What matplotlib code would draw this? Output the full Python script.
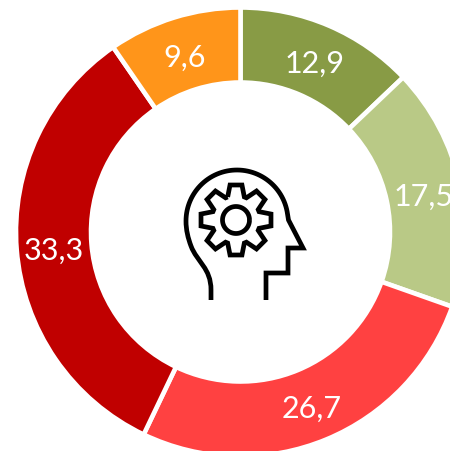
import numpy as np
import matplotlib
matplotlib.use("Agg")
import matplotlib.pyplot as plt
from matplotlib.path import Path
from matplotlib.patches import PathPatch

values = [12.9, 17.5, 26.7, 33.3, 9.6]
labels = ["12,9", "17,5", "26,7", "33,3", "9,6"]
colors = ["#889B45", "#B9C986", "#FF4141", "#C00000", "#FF951A"]

W, H = 450, 451
CX, CY, R_OUT, R_IN = 240.5, 232, 224.5, 149.5

fig = plt.figure(figsize=(W / 100, H / 100), dpi=100)
ax = fig.add_axes([0, 0, 1, 1])

lab = iter(labels)
wedges, _, texts = ax.pie(
    values, colors=colors, startangle=90, counterclock=False,
    center=(CX, H - CY), radius=R_OUT, frame=True,
    wedgeprops=dict(width=R_OUT - R_IN, edgecolor="white", linewidth=3.3),
    autopct=lambda p: next(lab), pctdistance=(R_OUT + R_IN) / 2 / R_OUT,
    textprops=dict(color="white", fontsize=22, family="Lato", fontweight="normal"),
)
for t in texts:
    t.set_va("center_baseline")
    x, y = t.get_position()
    t.set_position((x, y - 1.5))
ax.set_xlim(0, W)
ax.set_ylim(0, H)
ax.set_aspect("equal")
ax.axis("off")


def flip(pts):
    return [(x, H - y) for x, y in pts]


icon = dict(fill=False, edgecolor="black", linewidth=3.4, joinstyle="miter", capstyle="butt")

# head silhouette
hx, hy, hr = 237, 221, 51
arc = np.radians(np.linspace(180, 8, 60))
arc_pts = [(hx + hr * np.cos(a), hy - hr * np.sin(a)) for a in arc]
head = [(211, 300), (211, 290), (211, 268), (197, 262), (191, 246), (188, 238), (186, 230), (186, 221)]
codes = [Path.MOVETO, Path.LINETO] + [Path.CURVE4] * 6
head += arc_pts[1:] + [(288.5, 220), (303, 248), (288, 248), (288, 273), (266, 273), (266, 300)]
codes += [Path.LINETO] * (len(arc_pts) - 1 + 6)
ax.add_patch(PathPatch(Path(flip(head), codes), **icon))

# gear
gx, gy = 236, 220
ro, rr = 35.5, 24.5
pts = []
for k in range(8):
    a = np.radians(90 - 45 * k)
    for r, off in [(rr, -8.5), (ro, -6), (ro, 6), (rr, 8.5)]:
        da = off / r
        pts.append((gx + r * np.cos(a - da), gy - r * np.sin(a - da)))
pts.append(pts[0])
ax.add_patch(PathPatch(Path(flip(pts)), **icon))
t = np.linspace(0, 2 * np.pi, 80)
ax.add_patch(PathPatch(Path(flip(list(zip(gx + 13.5 * np.cos(t), gy + 13.5 * np.sin(t))))), **icon))

fig.savefig("out.png", dpi=100, facecolor="white")
